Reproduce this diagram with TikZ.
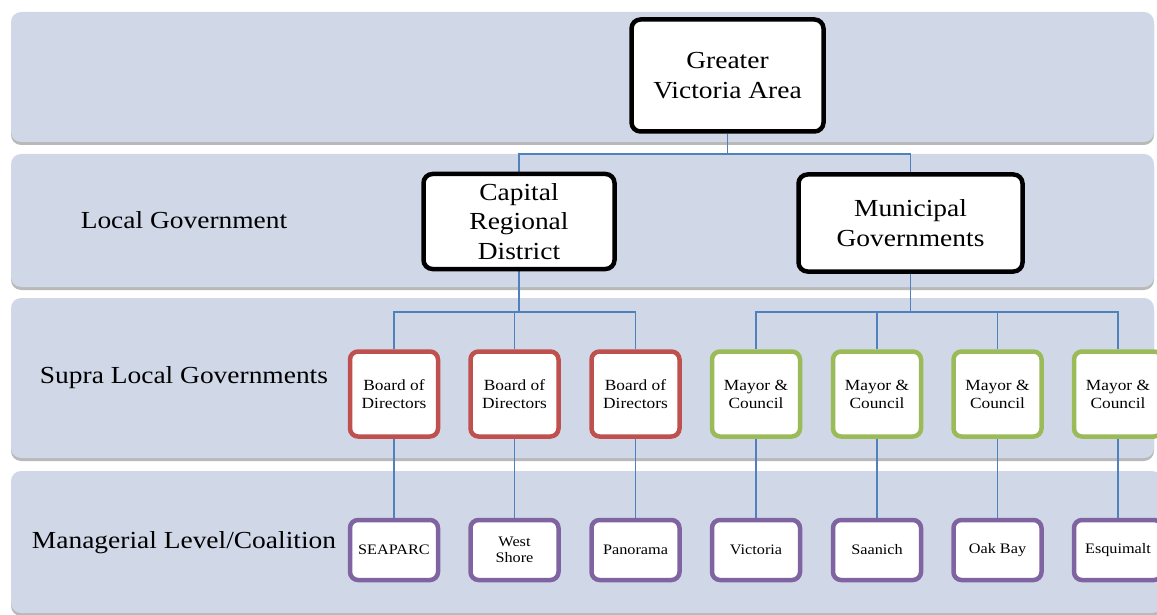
\documentclass[tikz,border=0pt]{standalone}
\usepackage{fontspec}
\setmainfont{Liberation Serif}[FakeStretch=1.12]
\usetikzlibrary{shadows}
\pgfdeclarelayer{background}
\pgfsetlayers{background,main}
\definecolor{bandc}{HTML}{D0D8E8}
\definecolor{connc}{HTML}{4F81BD}
\definecolor{redc}{HTML}{C0504D}
\definecolor{greenc}{HTML}{9BBB59}
\definecolor{purplec}{HTML}{8064A2}
\begin{document}
\begin{tikzpicture}[x=1pt,y=-1pt,
  band/.style={fill=bandc, rounded corners=10pt,
    drop shadow={shadow xshift=0pt, shadow yshift=-3pt, opacity=0.5, fill=black!55}},
  lvl/.style={font=\fontsize{24.5}{30}\selectfont, inner sep=0pt},
  big/.style={draw=black, line width=4.5pt, fill=white, rounded corners=9pt,
    align=center, inner sep=0pt, font=\fontsize{24.5}{29.5}\selectfont},
  small/.style={line width=4.5pt, fill=white, rounded corners=8pt, align=center,
    inner sep=0pt, minimum width=88pt, minimum height=85pt,
    font=\fontsize{15.5}{18}\selectfont},
  low/.style={draw=purplec, line width=4.5pt, fill=white, rounded corners=8pt,
    align=center, inner sep=0pt, minimum width=88pt, minimum height=60pt,
    font=\fontsize{14.5}{16.5}\selectfont},
  board/.style={small, draw=redc},
  mayor/.style={small, draw=greenc},
  conn/.style={draw=connc, line width=1.8pt}
]
\useasboundingbox (0,0) rectangle (1157,615);

% level labels
\node[lvl] (l1) at (184,220) {Local Government};
\node[lvl] (l2) at (184,378) {Supra Local Governments};
\node[lvl] (l3) at (184,543) {Managerial Level/Coalition};

% top nodes
\node[big, minimum width=192pt, minimum height=112pt] (gva) at (727.5,75.5) {Greater\\Victoria Area};
\node[big, minimum width=191pt, minimum height=95pt] (crd) at (519,221.5) {Capital\\Regional\\District};
\node[big, minimum width=224pt, minimum height=97pt] (mg) at (910.5,223) {Municipal\\Governments};

% supra local
\node[board] (b1) at (394,394) {Board of\\Directors};
\node[board] (b2) at (514.5,394) {Board of\\Directors};
\node[board] (b3) at (635.5,394) {Board of\\Directors};
\node[mayor] (m1) at (756,394) {Mayor \&\\Council};
\node[mayor] (m2) at (877,394) {Mayor \&\\Council};
\node[mayor] (m3) at (997.5,394) {Mayor \&\\Council};
\node[mayor] (m4) at (1118,394) {Mayor \&\\Council};

% managerial
\node[low] (s1) at (394,550) {SEAPARC};
\node[low] (s2) at (514.5,550) {West\\Shore};
\node[low] (s3) at (635.5,550) {Panorama};
\node[low] (s4) at (756,550) {Victoria};
\node[low] (s5) at (877,550) {Saanich};
\node[low] (s6) at (997.5,550) {Oak Bay};
\node[low] (s7) at (1118,550) {Esquimalt};

% junctions
\coordinate (j0) at (727.5,154);
\coordinate (j1) at (519,312);
\coordinate (j2) at (910.5,312);

\begin{pgfonlayer}{background}
\begin{scope}
\clip (0,0) rectangle (1157,615);
\path[band] (11,12) rectangle (1154,142);
\path[band] (11,154) rectangle (1154,287);
\path[band] (11,298) rectangle (1154,458);
\path[band] (11,471) rectangle (1162,613);
\end{scope}
\draw[conn] (gva.south) -- (j0);
\draw[conn] (j0) -| (crd.north);
\draw[conn] (j0) -| (mg.north);
\draw[conn] (crd.south) -- (j1);
\draw[conn] (mg.south) -- (j2);
\foreach \b in {b1,b2,b3} \draw[conn] (j1) -| (\b.north);
\foreach \m in {m1,m2,m3,m4} \draw[conn] (j2) -| (\m.north);
\draw[conn] (b1.south) -- (s1.north);
\draw[conn] (b2.south) -- (s2.north);
\draw[conn] (b3.south) -- (s3.north);
\draw[conn] (m1.south) -- (s4.north);
\draw[conn] (m2.south) -- (s5.north);
\draw[conn] (m3.south) -- (s6.north);
\draw[conn] (m4.south) -- (s7.north);
\end{pgfonlayer}
\end{tikzpicture}
\end{document}
